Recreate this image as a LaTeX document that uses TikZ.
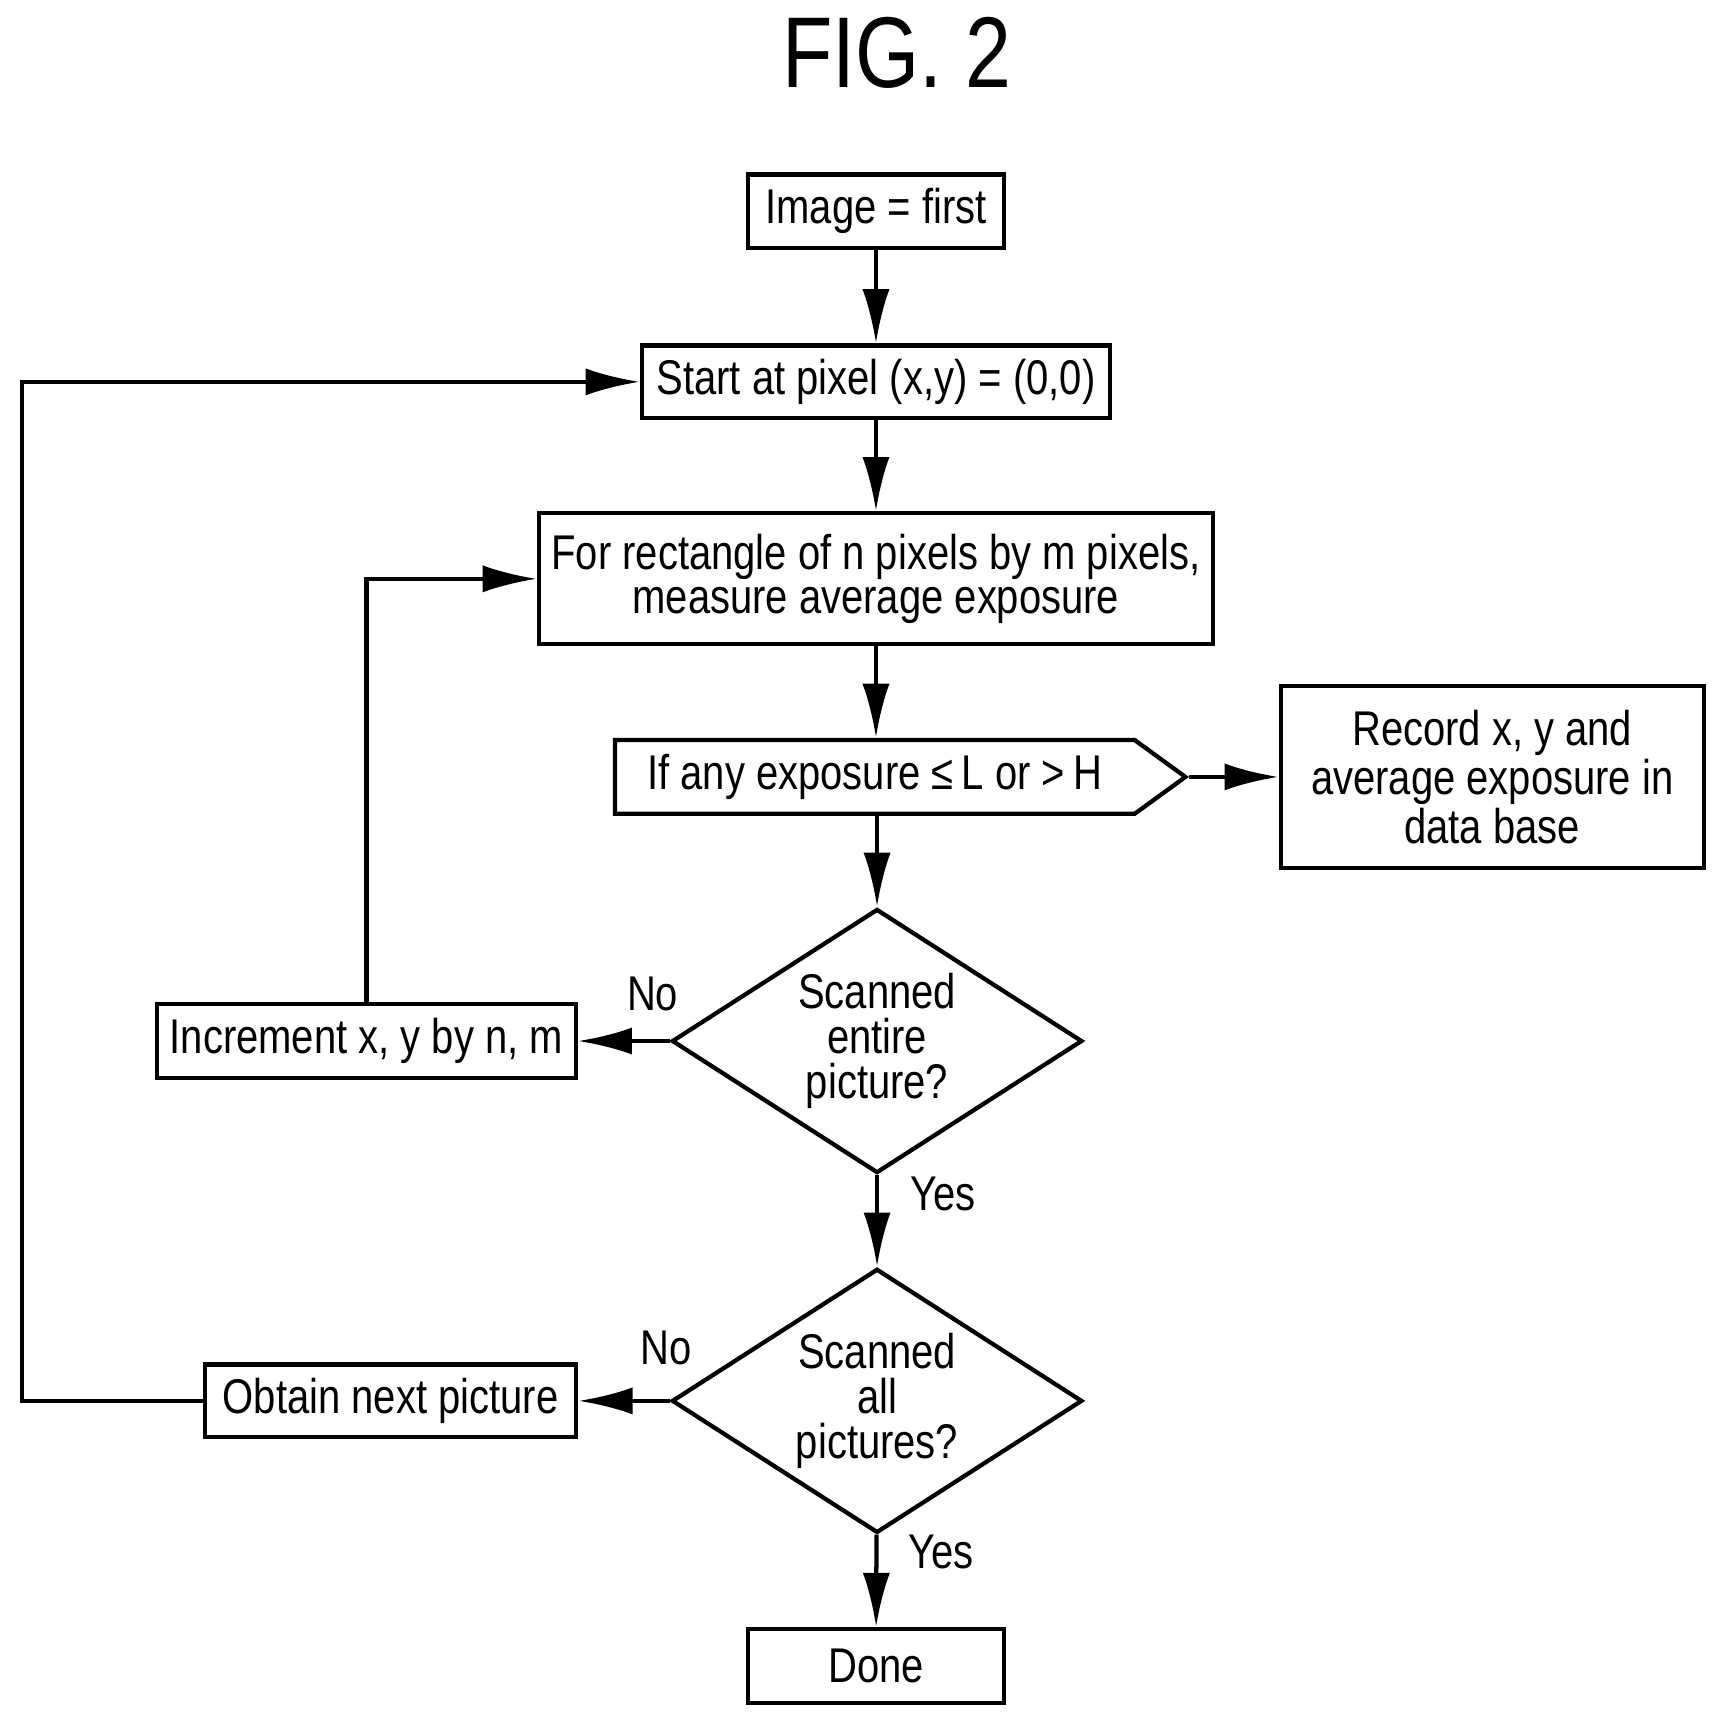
\documentclass[tikz,border=0pt]{standalone}
\usepackage{fontspec}
\setmainfont[FakeStretch=0.82]{Liberation Sans}
\usetikzlibrary{arrows.meta,shapes.geometric,shapes.symbols}
\begin{document}
\begin{tikzpicture}[x=0.01cm,y=-0.01cm,>={Latex[length=14pt,width=7pt]},
    every node/.style={font=\fontsize{12.6}{11.6}\selectfont},
    box/.style={draw,line width=1.1pt,inner sep=0,align=center},
    dec/.style={draw,diamond,line width=1.1pt,inner sep=0,aspect=1.55,
        minimum width=373*0.01cm,minimum height=240*0.01cm,align=center},
    flow/.style={line width=1.1pt}]
    \useasboundingbox (0,0) rectangle (1563,1563);
    \node (title) at (815,48) {\fontsize{26}{30}\selectfont FIG. 2};
    \node[box,minimum width=2.32cm,minimum height=0.67cm](first) at (796,192) {Image = first};
    \node[box,minimum width=4.25cm,minimum height=0.66cm](start) at (796,347) {Start at pixel (x,y) = (0,0)};
    \node[box,minimum width=6.12cm,minimum height=1.19cm](meas) at (796,526) {For rectangle of n pixels by m pixels,\\measure average exposure};
    \node[draw,signal,signal to=east,signal pointer angle=72,line width=1.1pt,inner sep=0,
        minimum width=5.18cm,minimum height=0.67cm](chk) at (795,706) {If any exposure ≤\,L or >\,H};
    \node[box,minimum width=3.84cm,minimum height=1.65cm](rec) at (1356,706) {Record x, y and\\average exposure in\\data base};
    \node[dec](scan) at (797,946) {Scanned\\entire\\picture?};
    \node[box,minimum width=3.80cm,minimum height=0.67cm](inc) at (333,946) {Increment x, y by n, m};
    \node[dec](all) at (797,1273) {Scanned\\all\\pictures?};
    \node[box,minimum width=3.37cm,minimum height=0.66cm](next) at (355,1273) {Obtain next picture};
    \node[box,minimum width=2.32cm,minimum height=0.67cm](done) at (796,1514) {Done};
    \node (no1) at (593,903) {No};
    \node (yes1) at (857,1085) {Yes};
    \node (no2) at (605,1225) {No};
    \node (yes2) at (855,1410) {Yes};
    \coordinate (c1) at (333,526);
    \coordinate (c2) at (20,1273);
    \coordinate (c3) at (20,347);
    \draw[flow,->] (first) -- (start);
    \draw[flow,->] (start) -- (meas);
    \draw[flow,->] (meas.south) -- (meas.south |- chk.north);
    \draw[flow,->] (chk.east) -- (rec);
    \draw[flow,->] (chk.south -| scan.north) -- (scan);
    \draw[flow,->] (scan) -- (inc);
    \draw[flow,->] (inc) -- (c1) -- (meas);
    \draw[flow,->] (scan) -- (all);
    \draw[flow,->] (all) -- (next);
    \draw[flow,->] (next) -- (c2) -- (c3) -- (start);
    \draw[flow,->] (all) -- (done);
\end{tikzpicture}
\end{document}
